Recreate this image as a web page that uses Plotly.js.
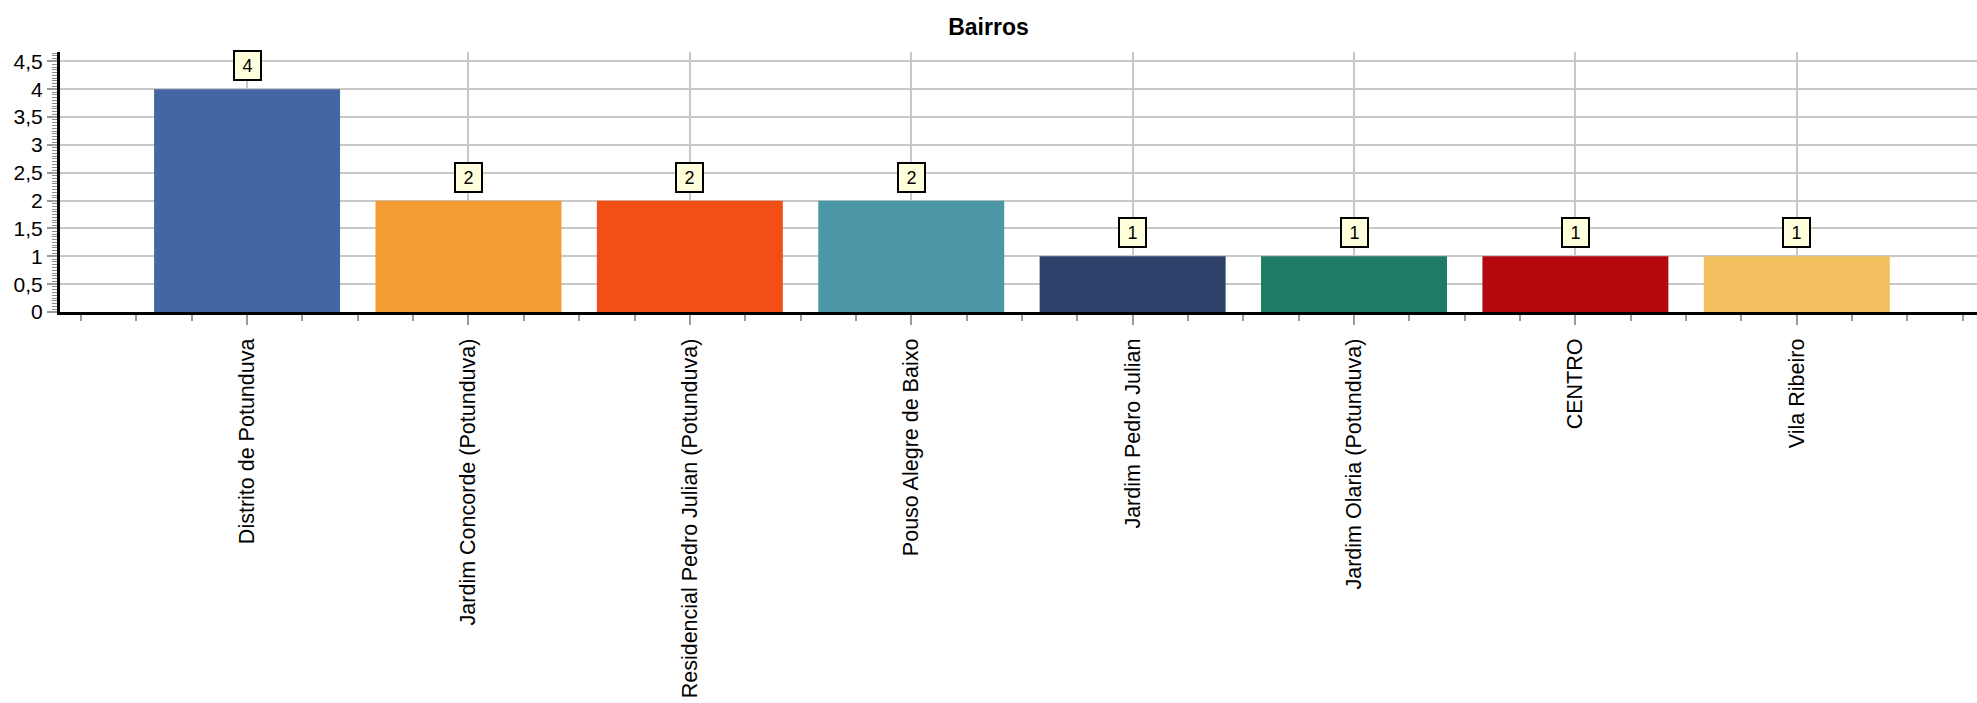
<!DOCTYPE html>
<html>
<head>
<meta charset="utf-8">
<script src="https://cdn.plot.ly/plotly-3.0.1.min.js"></script>
<style>html,body{margin:0;padding:0;background:#fff;}#chart{width:1977px;height:703px;}</style>
</head>
<body>
<div id="chart"></div>
<script>
const categories = [
  "Distrito de Potunduva",
  "Jardim Concorde (Potunduva)",
  "Residencial Pedro Julian (Potunduva)",
  "Pouso Alegre de Baixo",
  "Jardim Pedro Julian",
  "Jardim Olaria (Potunduva)",
  "CENTRO",
  "Vila Ribeiro"
];
const values = [4, 2, 2, 2, 1, 1, 1, 1];
const barColors = ["#4466a2", "#f39c34", "#f24f17", "#4c97a7", "#2d416b", "#1f7b66", "#b3090f", "#f1bf5e"];
const yTickVals = [0, 0.5, 1, 1.5, 2, 2.5, 3, 3.5, 4, 4.5];
const chartTitle = "Bairros";

const xs = categories.map((_, i) => i);

const trace = {
  type: "bar",
  x: xs,
  y: values,
  width: 0.84,
  marker: {color: barColors, line: {width: 0}},
  hoverinfo: "skip",
  cliponaxis: false
};

const annotations = values.map((v, i) => ({
  x: i, y: v, xref: "x", yref: "y",
  text: String(v),
  showarrow: false,
  yshift: 23.5,
  font: {family: "Liberation Sans, Arial, sans-serif", size: 18, color: "#000"},
  bgcolor: "#ffffdc",
  bordercolor: "#000",
  borderwidth: 2,
  borderpad: 0,
  width: 25,
  height: 27,
  xanchor: "center", yanchor: "middle"
}));

const layout = {
  width: 1977, height: 703,
  margin: {l: 60, r: 0, t: 52, b: 391, pad: 0},
  paper_bgcolor: "#fff", plot_bgcolor: "#fff",
  separators: ",.",
  showlegend: false,
  bargap: 0.16,
  font: {family: "Liberation Sans, Arial, sans-serif", color: "#000"},
  title: {
    text: "<b>" + chartTitle + "</b>",
    xref: "container", x: 0.5, xanchor: "center",
    yref: "container", y: 1 - 27 / 703, yanchor: "middle",
    font: {size: 23, color: "#000"}
  },
  xaxis: {
    type: "linear",
    range: [-0.845, 7.814],
    tickmode: "array",
    tickvals: xs,
    ticktext: categories,
    tickangle: -90,
    tickfont: {size: 21.5, color: "#000"},
    ticks: "outside", ticklen: 10, tickwidth: 2, tickcolor: "#9a9a9a",
    ticklabelstandoff: 5,
    showgrid: true, gridcolor: "#c8c8c8", gridwidth: 2,
    showline: true, linecolor: "#000", linewidth: 3,
    zeroline: false,
    minor: {dtick: 0.25, tick0: 0, ticks: "outside", ticklen: 6, tickwidth: 2, tickcolor: "#9a9a9a", showgrid: false},
    fixedrange: true
  },
  yaxis: {
    range: [0, 4.67],
    tickmode: "array",
    tickvals: yTickVals,
    ticktext: yTickVals.map(v => String(v).replace(".", ",")),
    tickfont: {size: 21, color: "#000"},
    ticks: "outside", ticklen: 10, tickwidth: 2, tickcolor: "#9a9a9a",
    showgrid: true, gridcolor: "#c8c8c8", gridwidth: 2,
    showline: true, linecolor: "#000", linewidth: 3,
    zeroline: false,
    minor: {dtick: 0.05, tick0: 0, ticks: "outside", ticklen: 5, tickwidth: 1, tickcolor: "#8a8a8a", showgrid: false},
    fixedrange: true
  },
  annotations: annotations
};

Plotly.newPlot("chart", [trace], layout, {displayModeBar: false, staticPlot: true});
</script>
</body>
</html>
